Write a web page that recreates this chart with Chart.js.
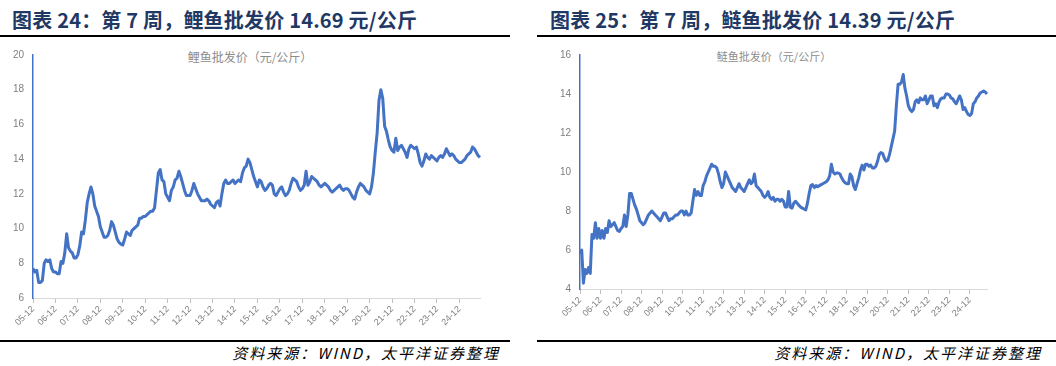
<!DOCTYPE html>
<html>
<head>
<meta charset="utf-8">
<script src="https://cdn.jsdelivr.net/npm/chart.js@4.4.0/dist/chart.umd.min.js"></script>
<style>
body{margin:0;width:1056px;height:366px;position:relative;background:#fff;font-family:"Noto Sans CJK SC",sans-serif;overflow:hidden}
.t{position:absolute;top:10px;font-size:20px;line-height:1;font-weight:bold;color:#1f3864;letter-spacing:0.2px;white-space:nowrap}
.rule{position:absolute;height:2px;background:#000}
.src{position:absolute;top:345px;font-size:15px;line-height:1;font-style:italic;letter-spacing:2px;white-space:nowrap;color:#000}
.ct{position:absolute;top:51px;font-size:12px;line-height:1;color:#8c8c8c;transform:translateX(-50%);white-space:nowrap}
canvas{position:absolute}
</style>
</head>
<body>
<div class="t" style="left:12px">图表 24：第 7 周，鲤鱼批发价 14.69 元/公斤</div>
<div class="t" style="left:550px">图表 25：第 7 周，鲢鱼批发价 14.39 元/公斤</div>
<div class="rule" style="left:0;top:35px;width:510px"></div>
<div class="rule" style="left:537px;top:35px;width:519px"></div>
<div class="ct" style="left:250px">鲤鱼批发价（元/公斤）</div>
<div class="ct" style="left:774px;font-size:11px">鲢鱼批发价（元/公斤）</div>
<canvas id="carp" width="505" height="293" style="left:0;top:45px"></canvas>
<canvas id="silver" width="470" height="293" style="left:537px;top:45px"></canvas>
<div class="rule" style="left:0;top:340px;width:510px"></div>
<div class="rule" style="left:537px;top:340px;width:519px"></div>
<div class="src" style="right:556px">资料来源：WIND，太平洋证券整理</div>
<div class="src" style="right:14px">资料来源：WIND，太平洋证券整理</div>
<script>
// yearly tick labels (one every 12 points)
const tickLabels = ['05-12','06-12','07-12','08-12','09-12','10-12','11-12','12-12','13-12','14-12',
  '15-12','16-12','17-12','18-12','19-12','20-12','21-12','22-12','23-12','24-12'];

// 鲤鱼批发价 (元/公斤), monthly readings
const carpPrice = [
  7.7,7.5,7.6,6.9,6.9,7.0,8.0,8.2,8.1,8.2,7.7,7.5,
  7.5,7.4,7.4,8.1,8.0,8.6,9.7,8.9,8.7,8.6,8.3,8.3,
  8.5,9.0,9.8,9.7,10.5,11.5,12.0,12.4,12.0,11.3,11.0,10.7,
  10.1,9.8,9.5,9.5,9.6,9.9,10.4,10.2,9.8,9.4,9.2,9.1,
  9.05,9.4,9.8,9.7,9.6,9.9,10.0,10.1,10.2,10.6,10.6,10.7,
  10.7,10.8,10.9,11.0,11.0,11.2,12.2,13.2,13.4,12.8,12.7,12.0,
  11.8,11.6,12.2,12.4,12.8,12.9,13.3,13.0,12.6,12.2,11.9,11.9,
  11.9,12.2,12.6,12.3,12.0,11.8,11.6,11.6,11.6,11.7,11.6,11.4,
  11.3,11.2,11.5,11.6,11.3,12.0,12.6,12.8,12.6,12.6,12.7,12.8,
  12.6,12.7,12.8,12.7,13.2,13.5,13.6,14.0,13.8,13.4,13.0,12.7,
  12.4,12.8,12.7,12.4,12.2,12.3,12.5,12.6,12.5,12.0,11.9,12.1,
  12.3,12.4,12.1,11.9,12.0,12.2,12.6,12.9,12.8,12.7,12.4,12.2,
  12.3,12.5,13.3,12.5,12.7,13.0,12.9,12.8,12.7,12.5,12.4,12.5,
  12.6,12.5,12.4,12.2,12.1,12.2,12.3,12.4,12.5,12.3,12.2,12.3,
  12.3,12.2,12.0,11.8,11.7,12.1,12.4,12.6,12.5,12.4,12.2,12.1,
  12.0,12.4,13.2,14.4,15.5,17.4,18.0,17.5,15.9,15.6,15.1,14.7,
  14.5,14.4,15.2,14.5,14.7,14.8,14.6,14.4,14.1,14.6,14.8,14.7,
  14.6,14.7,14.3,13.8,13.6,13.9,14.3,14.1,14.0,14.2,14.1,14.0,
  13.9,14.1,14.2,14.1,14.3,14.6,14.4,14.2,14.3,14.2,14.0,13.9,
  13.8,13.8,13.9,14.0,14.2,14.3,14.4,14.7,14.6,14.4,14.2,14.1
];

// 鲢鱼批发价 (元/公斤), monthly readings
const silverCarpPrice = [
  5.8,6.0,4.3,5.0,4.8,5.1,4.8,6.8,6.6,7.4,6.6,7.1,
  6.6,7.0,6.6,7.1,6.9,7.5,7.2,7.3,7.4,7.2,7.0,6.95,
  7.1,7.2,7.8,7.2,7.8,8.9,8.9,8.6,8.3,8.1,7.8,7.5,
  7.4,7.3,7.4,7.6,7.8,7.9,8.0,7.9,7.8,7.7,7.6,7.5,
  7.7,7.9,7.9,7.7,7.5,7.6,7.6,7.7,7.8,7.8,7.9,8.0,
  8.0,7.8,8.0,7.8,7.8,7.9,8.5,9.1,8.8,9.0,8.8,8.8,
  9.3,9.5,9.8,10.0,10.2,10.4,10.3,10.3,10.2,9.9,9.5,9.2,
  9.4,10.0,9.8,9.6,9.4,9.2,9.1,9.0,9.2,9.4,9.2,9.1,
  9.0,9.2,9.4,9.6,9.4,9.5,9.9,9.3,9.2,9.1,9.0,8.8,
  8.7,8.8,9.0,8.7,8.6,8.7,8.5,8.6,8.6,8.5,8.6,8.5,
  8.2,8.2,9.0,8.2,8.15,8.4,8.5,8.4,8.3,8.2,8.15,8.1,
  8.05,8.4,8.9,9.3,9.35,9.2,9.3,9.25,9.3,9.35,9.4,9.45,
  9.5,9.6,9.8,10.4,10.0,9.9,9.95,9.95,9.9,9.7,9.55,9.45,
  9.4,9.4,9.9,9.75,9.3,9.1,9.4,9.7,10.1,10.35,10.1,10.4,
  10.4,10.3,10.35,10.2,10.2,10.3,10.55,10.9,11.0,10.95,10.7,10.55,
  10.6,10.9,11.3,11.7,12.1,13.4,14.5,14.5,14.6,15.0,14.3,13.9,
  13.4,13.2,13.1,13.2,13.6,13.7,13.55,13.8,13.7,13.7,13.9,13.5,
  13.7,13.9,13.9,13.4,13.5,13.3,13.6,13.75,13.8,13.8,14.0,14.0,
  13.95,13.8,13.75,13.6,13.5,13.7,13.9,13.7,13.2,13.3,13.1,12.95,
  12.9,13.0,13.5,13.6,13.8,13.9,14.05,14.1,14.15,14.1,14.0
];

Chart.defaults.font.family = "'Liberation Sans', Arial, sans-serif";
Chart.defaults.color = '#7f7f7f';

function makeChart(id, values, yMin, yMax, yWidth, xHeight, padRight) {
  return new Chart(document.getElementById(id), {
    type: 'line',
    data: {
      labels: values.map((v, i) => i),
      datasets: [{
        data: values,
        borderColor: '#4472c4',
        borderWidth: 3,
        pointRadius: 0,
        tension: 0,
        borderJoinStyle: 'round'
      }]
    },
    options: {
      responsive: false,
      animation: false,
      devicePixelRatio: 1,
      layout: { padding: { top: 10, right: padRight, left: 0, bottom: 0 } },
      plugins: { legend: { display: false }, tooltip: { enabled: false } },
      scales: {
        x: {
          offset: false,
          grid: { drawOnChartArea: false, tickLength: 5, color: '#bfbfbf' },
          border: { color: '#d9d9d9', width: 1 },
          ticks: {
            autoSkip: false,
            minRotation: 45,
            maxRotation: 45,
            padding: 1,
            font: { size: 9 },
            callback: (v, i) => (i % 12 === 0 ? tickLabels[i / 12] : null)
          },
          afterFit(s) { s.height = xHeight; }
        },
        y: {
          min: yMin,
          max: yMax,
          grid: { display: false, drawTicks: false },
          border: { color: '#4472c4', width: 1.5 },
          ticks: { stepSize: 2, padding: 9, font: { size: 10 } },
          afterFit(s) { s.width = yWidth; s.paddingTop = 0; s.paddingBottom = 0; }
        }
      }
    }
  });
}

makeChart('carp', carpPrice, 6, 20, 33, 40, 25);
makeChart('silver', silverCarpPrice, 4, 16, 43, 49, 20);
</script>
</body>
</html>
